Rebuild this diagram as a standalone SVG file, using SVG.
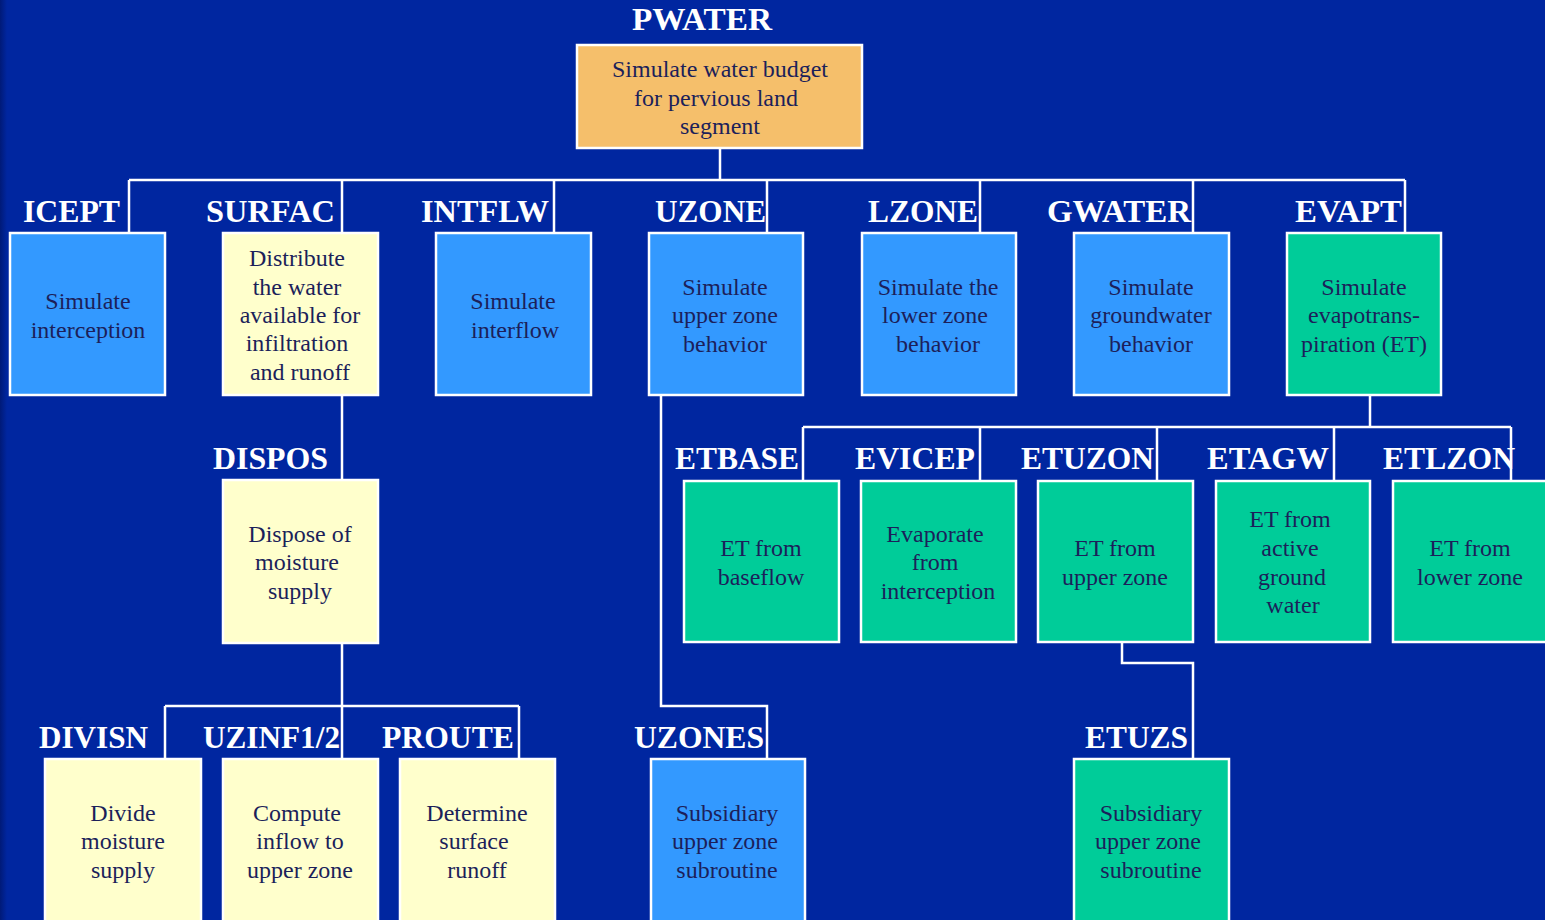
<svg xmlns="http://www.w3.org/2000/svg" width="1545" height="920" viewBox="0 0 1545 920">
  <defs>
    <linearGradient id="edgeShade" x1="0" y1="0" x2="1" y2="0">
      <stop offset="0" stop-color="#001a78"/>
      <stop offset="1" stop-color="#0026a0"/>
    </linearGradient>
    <style>
      .bg { fill: #0026a0; }
      .box { stroke: #ffffff; stroke-width: 2.5; }
      .blue { fill: #3399ff; }
      .yellow { fill: #ffffcc; }
      .green { fill: #00cc99; }
      .orange { fill: #f5bf6b; }
      .wire { fill: none; stroke: #ffffff; stroke-width: 2.5; }
      .name { font-family: "Liberation Serif", "Times New Roman", serif; font-weight: bold; font-size: 32px; fill: #ffffff; }
      .desc { font-family: "Liberation Serif", "Times New Roman", serif; font-size: 24px; fill: #1c1f5a; text-anchor: middle; }
    </style>
  </defs>

  <rect class="bg" x="0" y="0" width="1545" height="920"/>
  <rect x="0" y="0" width="7" height="920" fill="url(#edgeShade)"/>

  <!-- connectors -->
  <g id="connectors">
    <path class="wire" d="M720 148 V180 M129 180 H1405 M129 180 V233 M342 180 V233 M554 180 V233 M767 180 V233 M980 180 V233 M1193 180 V233 M1405 180 V233"/>
    <path class="wire" d="M342 395 V480"/>
    <path class="wire" d="M342 643 V706 M165 706 H519 M165 706 V759 M342 706 V759 M519 706 V759"/>
    <path class="wire" d="M661 395 V706 H767 V759"/>
    <path class="wire" d="M1370 395 V427 M803 427 H1511 M803 427 V481 M980 427 V481 M1157 427 V481 M1334 427 V481 M1511 427 V481"/>
    <path class="wire" d="M1122 642 V663 H1193 V759"/>
  </g>

  <!-- top level -->
  <g id="pwater">
    <text class="name" x="632" y="30" textLength="140" lengthAdjust="spacingAndGlyphs">PWATER</text>
    <rect class="box orange" x="577" y="45" width="285" height="103"/>
    <text class="desc" x="720" y="77">Simulate water budget</text>
    <text class="desc" x="716" y="106">for pervious land</text>
    <text class="desc" x="720" y="134">segment</text>
  </g>

  <!-- second level -->
  <g id="icept">
    <text class="name" x="23" y="222" textLength="97" lengthAdjust="spacingAndGlyphs">ICEPT</text>
    <rect class="box blue" x="10" y="233" width="155" height="162"/>
    <text class="desc" x="88" y="309">Simulate</text>
    <text class="desc" x="88" y="338">interception</text>
  </g>

  <g id="surfac">
    <text class="name" x="206" y="222" textLength="129" lengthAdjust="spacingAndGlyphs">SURFAC</text>
    <rect class="box yellow" x="223" y="233" width="155" height="162"/>
    <text class="desc" x="297" y="266">Distribute</text>
    <text class="desc" x="297" y="295">the water</text>
    <text class="desc" x="300" y="323">available for</text>
    <text class="desc" x="297" y="351">infiltration</text>
    <text class="desc" x="300" y="380">and runoff</text>
  </g>

  <g id="intflw">
    <text class="name" x="421" y="222" textLength="128" lengthAdjust="spacingAndGlyphs">INTFLW</text>
    <rect class="box blue" x="436" y="233" width="155" height="162"/>
    <text class="desc" x="513" y="309">Simulate</text>
    <text class="desc" x="515" y="338">interflow</text>
  </g>

  <g id="uzone">
    <text class="name" x="655" y="222" textLength="111" lengthAdjust="spacingAndGlyphs">UZONE</text>
    <rect class="box blue" x="649" y="233" width="154" height="162"/>
    <text class="desc" x="725" y="295">Simulate</text>
    <text class="desc" x="725" y="323">upper zone</text>
    <text class="desc" x="725" y="352">behavior</text>
  </g>

  <g id="lzone">
    <text class="name" x="868" y="222" textLength="110" lengthAdjust="spacingAndGlyphs">LZONE</text>
    <rect class="box blue" x="862" y="233" width="154" height="162"/>
    <text class="desc" x="938" y="295">Simulate the</text>
    <text class="desc" x="935" y="323">lower zone</text>
    <text class="desc" x="938" y="352">behavior</text>
  </g>

  <g id="gwater">
    <text class="name" x="1047" y="222" textLength="144" lengthAdjust="spacingAndGlyphs">GWATER</text>
    <rect class="box blue" x="1074" y="233" width="155" height="162"/>
    <text class="desc" x="1151" y="295">Simulate</text>
    <text class="desc" x="1151" y="323">groundwater</text>
    <text class="desc" x="1151" y="352">behavior</text>
  </g>

  <g id="evapt">
    <text class="name" x="1295" y="222" textLength="107" lengthAdjust="spacingAndGlyphs">EVAPT</text>
    <rect class="box green" x="1287" y="233" width="154" height="162"/>
    <text class="desc" x="1364" y="295">Simulate</text>
    <text class="desc" x="1364" y="323">evapotrans-</text>
    <text class="desc" x="1364" y="352">piration (ET)</text>
  </g>

  <!-- moisture disposal branch -->
  <g id="dispos">
    <text class="name" x="213" y="469" textLength="115" lengthAdjust="spacingAndGlyphs">DISPOS</text>
    <rect class="box yellow" x="223" y="480" width="155" height="163"/>
    <text class="desc" x="300" y="542">Dispose of</text>
    <text class="desc" x="297" y="570">moisture</text>
    <text class="desc" x="300" y="599">supply</text>
  </g>

  <g id="divisn">
    <text class="name" x="39" y="748" textLength="109" lengthAdjust="spacingAndGlyphs">DIVISN</text>
    <rect class="box yellow" x="45" y="759" width="156" height="175"/>
    <text class="desc" x="123" y="821">Divide</text>
    <text class="desc" x="123" y="849">moisture</text>
    <text class="desc" x="123" y="878">supply</text>
  </g>

  <g id="uzinf">
    <text class="name" x="203" y="748" textLength="137" lengthAdjust="spacingAndGlyphs">UZINF1/2</text>
    <rect class="box yellow" x="223" y="759" width="155" height="175"/>
    <text class="desc" x="297" y="821">Compute</text>
    <text class="desc" x="300" y="849">inflow to</text>
    <text class="desc" x="300" y="878">upper zone</text>
  </g>

  <g id="proute">
    <text class="name" x="382" y="748" textLength="132" lengthAdjust="spacingAndGlyphs">PROUTE</text>
    <rect class="box yellow" x="400" y="759" width="155" height="175"/>
    <text class="desc" x="477" y="821">Determine</text>
    <text class="desc" x="474" y="849">surface</text>
    <text class="desc" x="477" y="878">runoff</text>
  </g>

  <!-- upper zone subsidiary -->
  <g id="uzones">
    <text class="name" x="634" y="748" textLength="130" lengthAdjust="spacingAndGlyphs">UZONES</text>
    <rect class="box blue" x="651" y="759" width="154" height="175"/>
    <text class="desc" x="727" y="821">Subsidiary</text>
    <text class="desc" x="725" y="849">upper zone</text>
    <text class="desc" x="727" y="878">subroutine</text>
  </g>

  <!-- evapotranspiration branch -->
  <g id="etbase">
    <text class="name" x="675" y="469" textLength="124" lengthAdjust="spacingAndGlyphs">ETBASE</text>
    <rect class="box green" x="684" y="481" width="155" height="161"/>
    <text class="desc" x="761" y="556">ET from</text>
    <text class="desc" x="761" y="585">baseflow</text>
  </g>

  <g id="evicep">
    <text class="name" x="855" y="469" textLength="120" lengthAdjust="spacingAndGlyphs">EVICEP</text>
    <rect class="box green" x="861" y="481" width="155" height="161"/>
    <text class="desc" x="935" y="542">Evaporate</text>
    <text class="desc" x="935" y="570">from</text>
    <text class="desc" x="938" y="599">interception</text>
  </g>

  <g id="etuzon">
    <text class="name" x="1021" y="469" textLength="133" lengthAdjust="spacingAndGlyphs">ETUZON</text>
    <rect class="box green" x="1038" y="481" width="155" height="161"/>
    <text class="desc" x="1115" y="556">ET from</text>
    <text class="desc" x="1115" y="585">upper zone</text>
  </g>

  <g id="etagw">
    <text class="name" x="1207" y="469" textLength="122" lengthAdjust="spacingAndGlyphs">ETAGW</text>
    <rect class="box green" x="1216" y="481" width="154" height="161"/>
    <text class="desc" x="1290" y="527">ET from</text>
    <text class="desc" x="1290" y="556">active</text>
    <text class="desc" x="1292" y="585">ground</text>
    <text class="desc" x="1293" y="613">water</text>
  </g>

  <g id="etlzon">
    <text class="name" x="1383" y="469" textLength="132" lengthAdjust="spacingAndGlyphs">ETLZON</text>
    <rect class="box green" x="1393" y="481" width="156" height="161"/>
    <text class="desc" x="1470" y="556">ET from</text>
    <text class="desc" x="1470" y="585">lower zone</text>
  </g>

  <g id="etuzs">
    <text class="name" x="1085" y="748" textLength="103" lengthAdjust="spacingAndGlyphs">ETUZS</text>
    <rect class="box green" x="1074" y="759" width="155" height="175"/>
    <text class="desc" x="1151" y="821">Subsidiary</text>
    <text class="desc" x="1148" y="849">upper zone</text>
    <text class="desc" x="1151" y="878">subroutine</text>
  </g>
</svg>
